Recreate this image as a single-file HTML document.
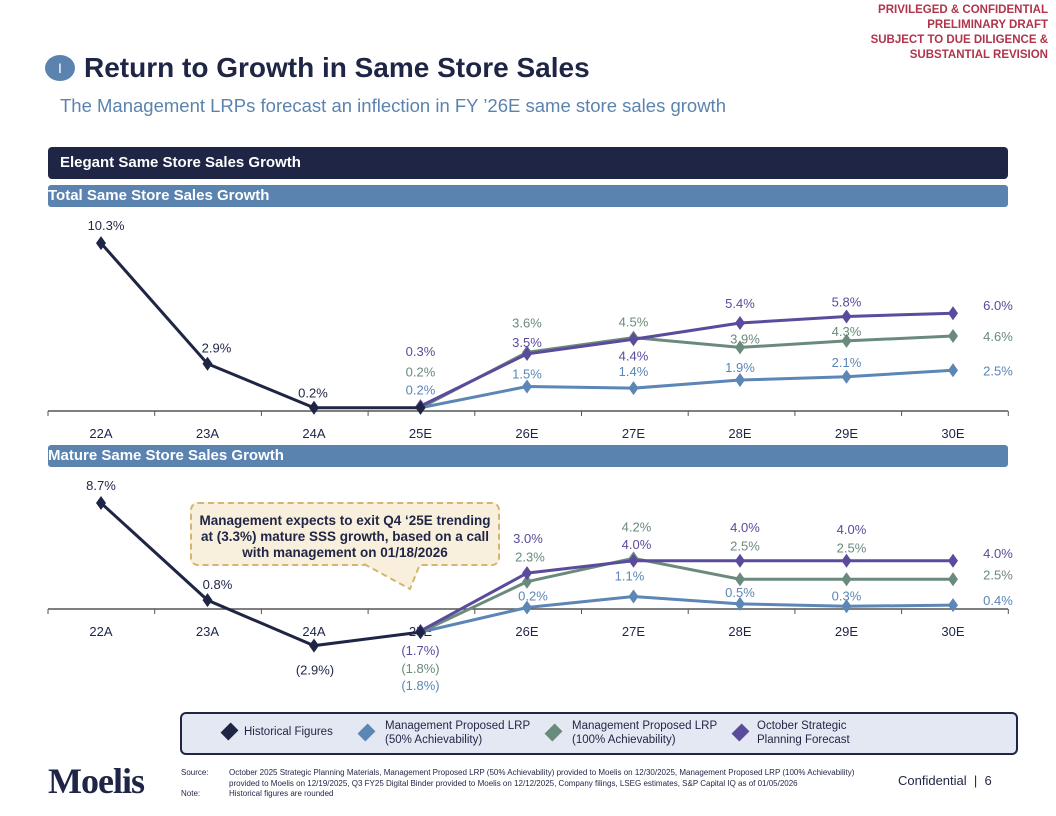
<!DOCTYPE html>
<html><head><meta charset="utf-8">
<style>
body{margin:0;width:1056px;height:816px;background:#fff;font-family:"Liberation Sans",Arial,sans-serif;position:relative;overflow:hidden}
.abs{position:absolute}
</style></head><body>
<div class="abs" style="right:8px;top:3px;text-align:right;color:#b0344a;font-weight:bold;font-size:11.5px;line-height:15px">PRIVILEGED &amp; CONFIDENTIAL<br>PRELIMINARY DRAFT<br>SUBJECT TO DUE DILIGENCE &amp;<br>SUBSTANTIAL REVISION</div>
<div class="abs" style="left:45px;top:55px;width:30px;height:26px;border-radius:50%;background:#5b83b0;color:#fff;font-size:14px;text-align:center;line-height:26px">I</div>
<div class="abs" style="left:84px;top:52px;font-size:28px;font-weight:bold;color:#1f2545">Return to Growth in Same Store Sales</div>
<div class="abs" style="left:60px;top:95px;font-size:18.5px;color:#5b83b0">The Management LRPs forecast an inflection in FY ’26E same store sales growth</div>
<div class="abs" style="left:48px;top:147px;width:960px;height:32px;background:#1f2545;border-radius:4px;color:#fff;font-weight:bold;font-size:15px;line-height:32px;box-sizing:border-box;padding-left:12px">Elegant Same Store Sales Growth</div>
<div class="abs" style="left:48px;top:185px;width:960px;height:22px;background:#5b83b0;border-radius:3px;color:#fff;font-weight:bold;font-size:15px;line-height:22px;box-sizing:border-box;padding-left:0px">Total Same Store Sales Growth</div>
<div class="abs" style="left:48px;top:445px;width:960px;height:22px;background:#5b83b0;border-radius:3px;color:#fff;font-weight:bold;font-size:15px;line-height:22px;box-sizing:border-box;padding-left:0px">Mature Same Store Sales Growth</div>

<svg id="chart" class="abs" style="left:0;top:0" width="1056" height="816"></svg>

<div class="abs" style="left:190px;top:502px;width:310px;height:64px;background:#f8efdd;border:2px dashed #d6b572;border-radius:8px;box-sizing:border-box;text-align:center;font-weight:bold;font-size:13.5px;color:#1f2545;line-height:16px;padding-top:9px">Management expects to exit Q4 ‘25E trending at (3.3%) mature SSS growth, based on a call with management on 01/18/2026</div>
<svg class="abs" style="left:360px;top:563px" width="80" height="30"><polygon points="2,0 62,0 50,26" fill="#f8efdd"/><polyline points="4,1 50,26 60,1" fill="none" stroke="#d6b572" stroke-width="2" stroke-dasharray="6,4"/></svg>

<div class="abs" style="left:180px;top:712px;width:838px;height:43px;background:#e4e8f3;border:2px solid #1f2545;border-radius:6px;box-sizing:border-box;font-size:11.5px;color:#1f2545">
 <div class="abs" style="left:62px;top:12px"><span style="position:absolute;left:-20px;top:0px;width:11px;height:11px;background:#1f2545;transform:rotate(45deg) scaleY(1.3)"></span>Historical Figures</div>
 <div class="abs" style="left:203px;top:5px;line-height:14px"><span style="position:absolute;left:-24px;top:8px;width:11px;height:11px;background:#5b86b5;transform:rotate(45deg) scaleY(1.3)"></span>Management Proposed LRP<br>(50% Achievability)</div>
 <div class="abs" style="left:390px;top:5px;line-height:14px"><span style="position:absolute;left:-24px;top:8px;width:11px;height:11px;background:#6a8a7c;transform:rotate(45deg) scaleY(1.3)"></span>Management Proposed LRP<br>(100% Achievability)</div>
 <div class="abs" style="left:575px;top:5px;line-height:14px"><span style="position:absolute;left:-22px;top:8px;width:11px;height:11px;background:#5a4b9c;transform:rotate(45deg) scaleY(1.3)"></span>October Strategic<br>Planning Forecast</div>
</div>

<div class="abs" style="left:48px;top:760px;font-family:'Liberation Serif',serif;font-size:36px;font-weight:bold;color:#1f2545;letter-spacing:-1px">Moelis</div>
<div class="abs" style="left:181px;top:768px;font-size:8px;color:#1f2545;line-height:10.5px;width:690px">
<div style="position:absolute;left:0">Source:</div><div style="margin-left:48px">October 2025 Strategic Planning Materials, Management Proposed LRP (50% Achievability) provided to Moelis on 12/30/2025, Management Proposed LRP (100% Achievability) provided to Moelis on 12/19/2025, Q3 FY25 Digital Binder provided to Moelis on 12/12/2025, Company filings, LSEG estimates, S&amp;P Capital IQ as of 01/05/2026</div>
<div style="position:absolute;left:0">Note:</div><div style="margin-left:48px">Historical figures are rounded</div></div>
<div class="abs" style="left:898px;top:773px;font-size:13px;color:#1f2545">Confidential &nbsp;|&nbsp; 6</div>

<script>
const categories=["22A","23A","24A","25E","26E","27E","28E","29E","30E"];
// Total SSS
const totHist=[10.3,2.9,0.2,0.2];
const tot50=[null,null,null,0.2,1.5,1.4,1.9,2.1,2.5];
const tot100=[null,null,null,0.2,3.6,4.5,3.9,4.3,4.6];
const totOct=[null,null,null,0.3,3.5,4.4,5.4,5.8,6.0];
// Mature SSS
const matHist=[8.7,0.8,-2.9,-1.8];
const mat50=[null,null,null,-1.8,0.2,1.1,0.5,0.3,0.4];
const mat100=[null,null,null,-1.8,2.3,4.2,2.5,2.5,2.5];
const matOct=[null,null,null,-1.7,3.0,4.0,4.0,4.0,4.0];

const svg=document.getElementById('chart');
const NS='http://www.w3.org/2000/svg';
function mk(t,a){const e=document.createElementNS(NS,t);for(const k in a)e.setAttribute(k,a[k]);svg.appendChild(e);return e;}
const X=i=>101+i*106.5;
function fmt(v){const s=Math.abs(v).toFixed(1)+'%';return v<0?'('+s+')':s;}
const COL={hist:'#1f2545',p50:'#5b86b5',p100:'#6a8a7c',oct:'#5a4b9c'};

function drawChart(cfg){
 const Y=v=>cfg.y0-v*cfg.k;
 const ax=mk('line',{x1:48,x2:1008,y1:cfg.axisY,y2:cfg.axisY,stroke:'#555',"stroke-width":1.5});
 
 
 for(let i=0;i<=9;i++){const t=mk('line',{x1:48+i*106.7,x2:48+i*106.7,y1:cfg.axisY,y2:cfg.axisY+5,stroke:'#555'});}
 categories.forEach((c,i)=>{const t=mk('text',{x:X(i),y:cfg.axisY+27,"text-anchor":"middle","font-size":13,fill:'#1f2545'});t.textContent=c;
  
  });
 cfg.series.forEach(s=>{
  const pts=[];s.data.forEach((v,i)=>{if(v!==null&&v!==undefined)pts.push([X(i),Y(v),v,i]);});
  const pl=mk('polyline',{points:pts.map(p=>p[0]+','+p[1]).join(' '),fill:'none',stroke:s.color,"stroke-width":3});
  
  
  pts.forEach((p,j)=>{
   const d=mk('polygon',{points:`${p[0]},${p[1]-7} ${p[0]+5},${p[1]} ${p[0]},${p[1]+7} ${p[0]-5},${p[1]}`,fill:s.color});
   
   
   const o=s.lab[j];if(!o)return;
   const t=mk('text',{x:p[0]+o[0],y:p[1]+o[1],"text-anchor":"middle","font-size":13,fill:s.color});
   t.textContent=fmt(p[2]);
   
   
  });
 });
}
drawChart({name:'total',y0:411,k:16.3,axisY:411,series:[
 {key:'p50',color:COL.p50,data:tot50,lab:[[0,-13],[0,-8],[0,-12],[0,-8],[0,-10],[45,5]]},
 {key:'p100',color:COL.p100,data:tot100,lab:[[0,-31],[0,-25],[0,-11],[5,-4],[0,-5],[45,5]]},
 {key:'oct',color:COL.oct,data:totOct,lab:[[0,-50],[0,-7],[0,21],[0,-15],[0,-10],[45,-3]]},
 {key:'hist',color:COL.hist,data:totHist,lab:[[5,-13],[9,-11],[-1,-10],null]}
]});
drawChart({name:'mature',y0:610,k:12.3,axisY:609,series:[
 {key:'p50',color:COL.p50,data:mat50,lab:[[0,58],[6,-7],[-4,-16],[0,-7],[0,-6],[45,0]]},
 {key:'p100',color:COL.p100,data:mat100,lab:[[0,41],[3,-20],[3,-27],[5,-29],[5,-27],[45,0]]},
 {key:'oct',color:COL.oct,data:matOct,lab:[[0,24],[1,-30],[3,-12],[5,-29],[5,-27],[45,-3]]},
 {key:'hist',color:COL.hist,data:matHist,lab:[[0,-13],[10,-11],[1,29],null]}
]});
</script>
</body></html>
